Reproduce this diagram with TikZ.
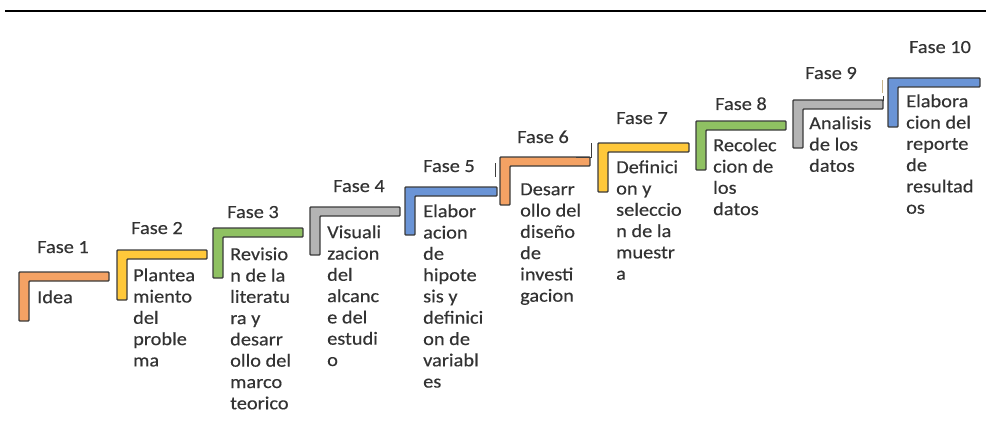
\documentclass[tikz,border=0pt]{standalone}
\usepackage{fontspec}
\setmainfont{Carlito}[FakeStretch=1.1, FakeBold=0.35]
\definecolor{lineC}{HTML}{3C3C3C}
\definecolor{txtC}{HTML}{333333}
\definecolor{orangeF}{HTML}{F4A264}
\definecolor{yellowF}{HTML}{FFC83A}
\definecolor{greenF}{HTML}{8FC162}
\definecolor{grayF}{HTML}{B4B4B4}
\definecolor{blueF}{HTML}{6A94D6}
\definecolor{tanC}{HTML}{C8B48A}
\tikzset{
  lbar/.style={draw=lineC, line width=1.4pt, line join=round, rounded corners=0.8pt},
  faselbl/.style={anchor=base, inner sep=0pt, text=txtC, font=\fontsize{18.5}{21.3}\selectfont},
  desc/.style={anchor=north west, inner sep=0pt, align=left, text=txtC, font=\fontsize{18.5}{21.3}\selectfont},
  artef/.style={draw=lineC, line width=0.8pt},
}
% #1 x, #2 y (top), #3 width, #4 height, #5 fill
\newcommand\phaseshape[5]{%
  \draw[lbar, fill=#5] (#1,#2) -- ++(#3,0) -- ++(0,9) -- ++({10-#3},0) -- ++(0,{#4-9}) -- ++(-10,0) -- cycle;
}
\newcommand\stru{\rule{0pt}{15pt}}
\begin{document}
\begin{tikzpicture}[x=1pt, y=-1pt]
\useasboundingbox (0,0) rectangle (986,436);
\coordinate (topL) at (5,11);
\coordinate (topR) at (986,11);
\draw[line width=1.6pt, black] (topL) -- (topR);

\phaseshape{19}{272}{90}{49}{orangeF}
\phaseshape{117}{250}{90}{50}{yellowF}
\phaseshape{213}{228}{90}{50}{greenF}
\phaseshape{310}{207}{90}{48}{grayF}
\phaseshape{405}{187}{92}{48}{blueF}
\phaseshape{500}{157}{90}{48}{orangeF}
\phaseshape{598}{143}{91}{49}{yellowF}
\phaseshape{696}{121}{90}{49}{greenF}
\phaseshape{793}{100}{90}{48}{grayF}
\phaseshape{888}{78}{92}{49}{blueF}

% small artefacts
\draw[artef] (495,163) -- (495,177);
\draw[artef] (576,157) -- (591,157) -- (591,143);
\draw[draw=tanC, line width=1pt] (882,80) -- (882,93);
\draw[artef] (883,96) -- (883,101);

\node[faselbl] (f1) at (63,253) {Fase 1};
\node[faselbl] (f2) at (157,234) {Fase 2};
\node[faselbl] (f3) at (253,218) {Fase 3};
\node[faselbl] (f4) at (359,192) {Fase 4};
\node[faselbl] (f5) at (449,172) {Fase 5};
\node[faselbl] (f6) at (543,143) {Fase 6};
\node[faselbl] (f7) at (642,124) {Fase 7};
\node[faselbl] (f8) at (741,110) {Fase 8};
\node[faselbl] (f9) at (831,79) {Fase 9};
\node[faselbl] (f10) at (940,53) {Fase 10};

\node[desc] (d1) at (37,{272+31-15}) {\stru Idea};
\node[desc] (d2) at (133,{250+31-15}) {\stru Plantea\\miento\\del\\proble\\ma};
\node[desc] (d3) at (230,{228+32-15}) {\stru Revisio\\n de la\\literatu\\ra y\\desarr\\ollo del\\marco\\teorico};
\node[desc] (d4) at (327,{207+31-15}) {\stru Visuali\\zacion\\del\\alcanc\\e del\\estudi\\o};
\node[desc] (d5) at (423,{187+30-15}) {\stru Elabor\\acion\\de\\hipote\\sis y\\definici\\on de\\variabl\\es};
\node[desc] (d6) at (520,{157+38-15}) {\stru Desarr\\ollo del\\diseño\\de\\investi\\gacion};
\node[desc] (d7) at (616,{143+30-15}) {\stru Definici\\on y\\seleccio\\n de la\\muestr\\a};
\node[desc] (d8) at (713,{121+30-15}) {\stru Recolec\\cion de\\los\\datos};
\node[desc] (d9) at (809,{100+29-15}) {\stru Analisis\\de los\\datos};
\node[desc] (d10) at (906,{78+29-15}) {\stru Elabora\\cion del\\reporte\\de\\resultad\\os};
\end{tikzpicture}
\end{document}
